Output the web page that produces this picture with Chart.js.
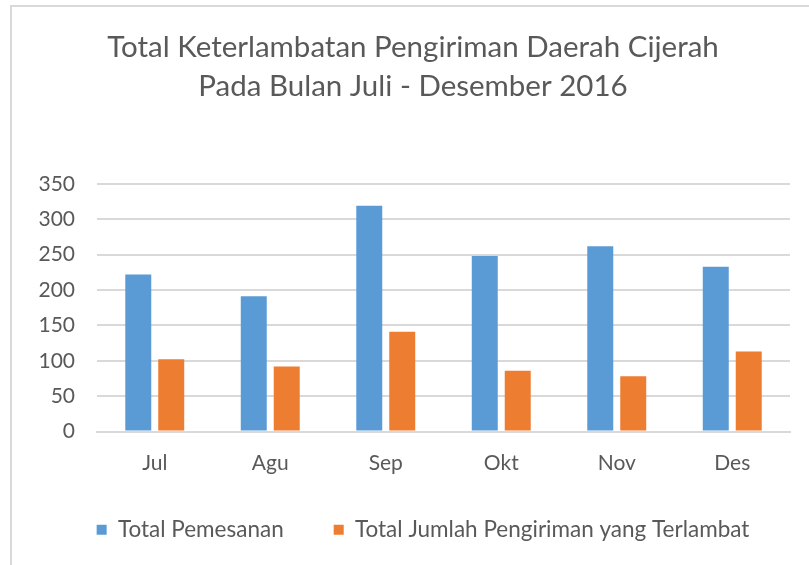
<!DOCTYPE html>
<html>
<head>
<meta charset="utf-8">
<script src="https://cdn.jsdelivr.net/npm/chart.js@4/dist/chart.umd.min.js"></script>
<style>
  html, body { margin: 0; padding: 0; background: #fff; }
  #wrap { position: relative; width: 809px; height: 565px; }
  #frame { position: absolute; left: 10px; top: 5px; right: 0; bottom: 0; border-top: 2px solid #d9d9d9; border-left: 2px solid #d9d9d9; }
  canvas { position: absolute; left: 0; top: 0; }
</style>
</head>
<body>
<div id="wrap">
  <div id="frame"></div>
  <canvas id="chart" width="809" height="565"></canvas>
</div>
<script>
const months = ["Jul", "Agu", "Sep", "Okt", "Nov", "Des"];
const totalPemesanan = [222, 191, 319, 248, 262, 233];
const totalTerlambat = [102, 92, 141, 86, 78, 113];
const titleLines = ["Total Keterlambatan Pengiriman Daerah Cijerah", "Pada Bulan Juli - Desember 2016"];
const fontName = "Lato";
const textColor = "#595959";

var ctx = document.getElementById('chart');

// nudge legend to where the original has it
const legendShift = {
    id: 'legendShift',
    afterLayout: function (chart) {
        chart.legend.left += 10;
        chart.legend.right += 10;
        chart.legend.top -= 13;
        chart.legend.bottom -= 13;
    }
};

var chart = new Chart(ctx, {
    type: 'bar',
    data: {
        labels: months,
        datasets: [{
            label: "Total Pemesanan",
            data: totalPemesanan,
            backgroundColor: "#5b9bd5"
        }, {
            label: "Total Jumlah Pengiriman yang Terlambat",
            data: totalTerlambat,
            backgroundColor: "#ed7d31"
        }]
    },
    options: {
        responsive: false,
        animation: false,
        categoryPercentage: 0.571,
        barPercentage: 0.788,
        layout: { padding: { left: 36, right: 19, top: 28, bottom: 1 } },
        plugins: {
            title: {
                display: true,
                text: titleLines,
                color: textColor,
                font: { family: fontName, size: 29.5, weight: 'normal', lineHeight: 1.32 },
                padding: { top: 0, bottom: 78 }
            },
            legend: {
                position: 'bottom',
                labels: {
                    boxWidth: 10,
                    boxHeight: 10,
                    padding: 50,
                    color: textColor,
                    font: { family: fontName, size: 22.5 }
                }
            },
            tooltip: { enabled: false }
        },
        scales: {
            x: {
                grid: { display: false },
                border: { display: true, color: "#d9d9d9", width: 2 },
                ticks: { color: textColor, font: { family: fontName, size: 21 }, padding: 11 },
                afterFit: function (s) { s.height = 50; }
            },
            y: {
                min: 0,
                max: 350,
                ticks: { stepSize: 50, color: textColor, font: { family: fontName, size: 21 }, padding: 22 },
                grid: { color: "#d9d9d9", lineWidth: 2, drawTicks: false },
                border: { display: false },
                afterFit: function (s) { s.width = 61; }
            }
        }
    },
    plugins: [legendShift]
});
</script>
</body>
</html>
